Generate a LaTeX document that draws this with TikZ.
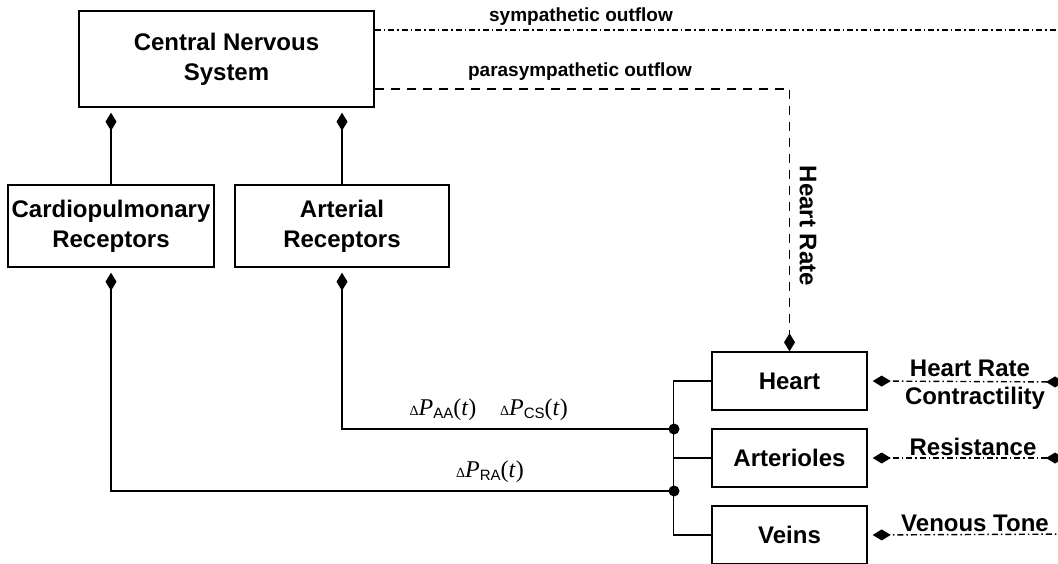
\documentclass[tikz,border=0pt]{standalone}
\usepackage{fontspec}
\setmainfont{Liberation Sans}
\setsansfont{Liberation Sans}
\newfontfamily\timesfont{Liberation Serif}
\usetikzlibrary{arrows.meta}
\newcommand{\dpr}[1]{{\timesfont\fontsize{14}{14}\selectfont Δ}{\timesfont\fontsize{24}{24}\selectfont\itshape P}\raisebox{-0.5ex}{\fontsize{15}{15}\selectfont #1}{\timesfont\fontsize{24}{24}\selectfont(\itshape t\/\upshape)}}
\begin{document}
\begin{tikzpicture}[x=1pt,y=-1pt,line width=1.4pt,
				box/.style={draw,align=center,inner sep=0pt,font=\fontsize{24}{30}\selectfont\bfseries},
				lab/.style={font=\fontsize{24}{28}\selectfont\bfseries},
				small/.style={font=\fontsize{19}{22}\selectfont\bfseries},
				arr/.style={-{Kite[length=18pt,width=11pt,inset=9pt]}},
				sym/.style={dash pattern=on 6pt off 3pt on 1.5pt off 3pt},
				para/.style={dash pattern=on 9pt off 7pt}]
\useasboundingbox (0,0) rectangle (1058,563);
\node[box,minimum width=295pt,minimum height=96pt] (cns) at (226.5,59) {Central Nervous\\System};
\node[box,minimum width=206pt,minimum height=82pt] (cardio) at (111,226) {Cardiopulmonary\\Receptors};
\node[box,minimum width=214pt,minimum height=82pt] (arter) at (342,226) {Arterial\\Receptors};
\node[box,minimum width=155pt,minimum height=58pt] (heart) at (789.5,381) {Heart};
\node[box,minimum width=155pt,minimum height=58pt] (artl) at (789.5,458) {Arterioles};
\node[box,minimum width=155pt,minimum height=58pt] (veins) at (789.5,535) {Veins};
\coordinate (j1) at (674,429);
\coordinate (j2) at (674,491);
\coordinate (symend) at (1058,30);
\coordinate (in1) at (1064,382);
\coordinate (in2) at (1064,458);
\coordinate (in3) at (1082,534);
\draw[arr,shorten >=5pt] (cardio.north) -- (cardio.north |- cns.south);
\draw[arr,shorten >=5pt] (arter.north) -- (arter.north |- cns.south);
\draw[arr,shorten >=5pt] (j1) -| (arter.south);
\draw[arr,shorten >=5pt] (j2) -| (cardio.south);
\draw (heart.west) -- ++(-38,0) |- (veins.west);
\draw (artl.west) -- (artl.west -| j1);
\fill (j1) circle (5.5pt);
\fill (j2) circle (5.5pt);
\draw[sym] ([yshift=29pt]cns.east) -- (symend);
\draw[para,arr] ([yshift=-30pt]cns.east) -| (heart.north);
\draw[sym,{Kite[length=18pt,width=11pt,inset=9pt]}-{Kite[length=18pt,width=11pt,inset=9pt]},shorten >=5pt] (in1) -- (heart.east);
\draw[sym,{Kite[length=18pt,width=11pt,inset=9pt]}-{Kite[length=18pt,width=11pt,inset=9pt]},shorten >=5pt] (in2) -- (artl.east);
\draw[sym,{Kite[length=18pt,width=11pt,inset=9pt]}-{Kite[length=18pt,width=11pt,inset=9pt]},shorten >=5pt] (in3) -- (veins.east);
\node[small] (symlab) at (581,17) {sympathetic outflow};
\node[small] (paralab) at (580,72) {parasympathetic outflow};
\node[lab,rotate=-90] (hrlab) at (808,226) {Heart Rate};
\node[lab] (hrin) at (970,368) {Heart Rate};
\node[lab] (ctin) at (975,398) {Contractility};
\node[lab] (rsin) at (973,447) {Resistance};
\node[lab] (vtin) at (975,523) {Venous Tone};
\node (paa) at (443,410) {\dpr{AA}};
\node (pcs) at (534,410) {\dpr{CS}};
\node (pra) at (490,472) {\dpr{RA}};
\end{tikzpicture}
\end{document}
